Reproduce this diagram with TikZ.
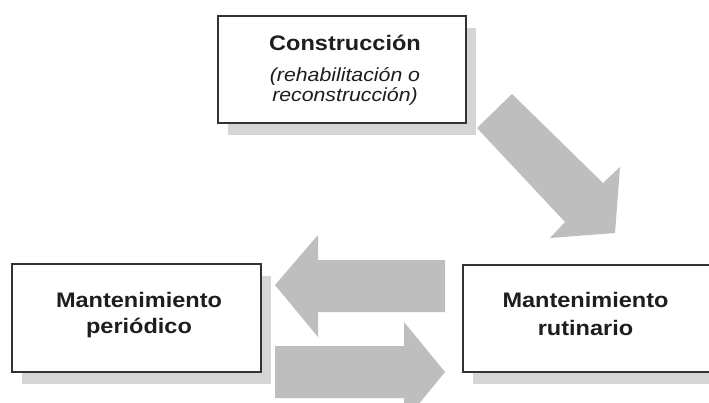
\documentclass[tikz,border=0pt]{standalone}
\usepackage{fontspec}
\setmainfont{Liberation Sans}[FakeStretch=1.12]
\definecolor{boxline}{HTML}{333333}
\definecolor{shadowc}{HTML}{D5D5D5}
\definecolor{arrowc}{HTML}{BEBEBE}
\definecolor{textc}{HTML}{1E1E1E}
\begin{document}
\begin{tikzpicture}[x=1pt,y=-1pt,
  stagebox/.style={draw=boxline, line width=1.3pt, fill=white, inner sep=0pt},
  boxshadow/.style={fill=shadowc},
  blockarrow/.style={fill=arrowc},
  titletext/.style={anchor=base, inner sep=0pt, text=textc, font=\fontsize{21}{27}\selectfont\bfseries},
  subtext/.style={anchor=base, inner sep=0pt, text=textc, font=\fontsize{19}{20}\selectfont\itshape}]
\useasboundingbox (0,0) rectangle (709,402);
\begin{scope}
\clip (0,0) rectangle (709,402);
\fill[white] (0,0) rectangle (709,402);
% shadows
\fill[boxshadow] (228,28) rectangle (476,135);
\fill[boxshadow] (22,276) rectangle (271,384);
\fill[boxshadow] (473,277) rectangle (722,384);
% boxes
\node[stagebox, minimum width=248pt, minimum height=107pt] (top) at (342,69.5) {};
\node[stagebox, minimum width=249pt, minimum height=108pt] (left) at (136.5,318) {};
\node[stagebox, minimum width=249pt, minimum height=107pt] (right) at (587.5,318.5) {};
% texts
\node[titletext] (top1) at (345,50) {Construcción};
\node[subtext] (top2) at (345,81) {(rehabilitación o};
\node[subtext] (top3) at (345,101) {reconstrucción)};
\node[titletext] (left1) at (139,307) {Mantenimiento};
\node[titletext] (left2) at (139,333) {periódico};
\node[titletext] (right1) at (585.5,307) {Mantenimiento};
\node[titletext] (right2) at (585.5,335) {rutinario};
% block arrows
\fill[blockarrow] (512,94) -- (603,183) -- (620,167) -- (615,233) -- (550,238) -- (565,222) -- (477,128) -- cycle;
\fill[blockarrow] (275,285) -- (318,235) -- (318,260) -- (445,260) -- (445,312) -- (318,312) -- (318,337) -- cycle;
\fill[blockarrow] (445,372) -- (404,322) -- (404,346) -- (275,346) -- (275,398) -- (404,398) -- (404,422) -- cycle;
\end{scope}
\end{tikzpicture}
\end{document}
